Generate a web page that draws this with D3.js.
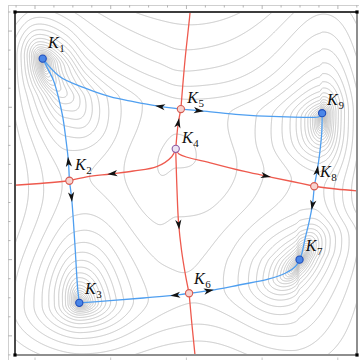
<!DOCTYPE html>
<html>
<head>
<meta charset="utf-8">
<script src="https://cdn.jsdelivr.net/npm/d3@7"></script>
<style>
  html, body { margin: 0; padding: 0; background: #fff; }
  svg { display: block; }
</style>
</head>
<body>
<svg id="chart" width="359" height="360"></svg>
<script>
// ---- critical points of the height function ----
const critNames = ["1", "2", "3", "4", "5", "6", "7", "8", "9"];
const critX = [0.81, 1.59, 1.88, 4.70, 4.85, 5.09, 8.32, 8.75, 8.98];
const critY = [8.64, 5.08, 1.52, 6.01, 7.17, 1.80, 2.78, 4.92, 7.05];
const critKind = ["min", "saddle", "min", "max", "saddle", "saddle", "min", "saddle", "min"];

// ---- descending separatrices: saddle -> minimum (blue) ----
const sepK5K1 = [[4.85, 7.17], [4.143, 7.26], [3.459, 7.385], [2.778, 7.53], [1.997, 7.80], [1.316, 8.11], [0.81, 8.64]];
const sepK5K9 = [[4.85, 7.17], [5.38, 7.122], [6.453, 7.018], [7.719, 6.947], [8.596, 6.93], [8.889, 6.947], [8.98, 7.05]];
const sepK2K1 = [[1.59, 5.08], [1.558, 5.685], [1.491, 6.268], [1.395, 6.948], [1.266, 7.53], [1.12, 8.017], [0.927, 8.405], [0.81, 8.64]];
const sepK2K3 = [[1.59, 5.08], [1.658, 4.548], [1.754, 3.187], [1.833, 1.924], [1.88, 1.52]];
const sepK6K3 = [[5.09, 1.80], [4.825, 1.758], [3.752, 1.662], [2.778, 1.583], [1.88, 1.52]];
const sepK6K7 = [[5.09, 1.80], [5.673, 1.875], [6.55, 2.041], [7.427, 2.216], [7.915, 2.391], [8.208, 2.586], [8.32, 2.78]];
const sepK8K9 = [[8.75, 4.92], [8.839, 5.394], [8.909, 5.88], [8.968, 6.463], [8.98, 7.05]];
const sepK8K7 = [[8.75, 4.92], [8.693, 4.353], [8.596, 3.869], [8.48, 3.382], [8.383, 2.945], [8.32, 2.78]];

// ---- ascending separatrices: maximum / boundary -> saddle (red) ----
const sepK4K5 = [[4.70, 6.01], [4.766, 6.706], [4.85, 7.17]];
const sepK5Top = [[4.85, 7.17], [4.971, 8.6], [5.117, 9.97], [5.12, 10.05]];
const sepK4K2 = [[4.70, 6.01], [4.582, 5.781], [4.143, 5.49], [3.459, 5.364], [2.778, 5.277], [2.096, 5.19], [1.59, 5.08]];
const sepK2Left = [[1.59, 5.08], [0.731, 5.0], [0.088, 4.956], [-0.05, 4.95]];
const sepK4K8 = [[4.70, 6.01], [4.795, 5.86], [5.769, 5.589], [6.746, 5.344], [7.427, 5.198], [8.1, 5.058], [8.75, 4.92]];
const sepK8Right = [[8.75, 4.92], [9.386, 4.84], [10.05, 4.78]];
const sepK4K6 = [[4.70, 6.01], [4.708, 5.685], [4.737, 4.81], [4.781, 3.878], [4.868, 3.061], [4.985, 2.332], [5.09, 1.80]];
const sepK6Bottom = [[5.09, 1.80], [5.175, 0.875], [5.263, 0], [5.266, -0.05]];

// ---- flow lines leaving the minima towards the frame (not drawn) ----
const extBelowK3 = [[1.95, -0.6], [1.93, 0.0]];
const extAboveK1 = [[0.72, 10.0], [0.70, 10.6]];
const extBelowK6 = [[5.28, -0.6]];
const extAboveK5 = [[5.13, 10.6]];
const extBelowK7 = [[8.12, -0.6], [8.15, 0.0]];
const extAboveK9 = [[9.0, 10.0], [9.0, 10.6]];
const extLeftK3 = [[-0.6, 1.40], [-0.2, 1.42]];
const extRightK7 = [[10.0, 3.3], [10.6, 3.45]];
const extLeftK2 = [[-0.6, 4.93]];
const extRightK8 = [[10.6, 4.75]];
const extLeftK1 = [[-0.6, 8.75], [0.0, 8.72]];
const extRightK9 = [[10.0, 7.1], [10.6, 7.12]];
// grid lines close to K1, opened up so the cell corner stays well shaped
const colNearK1 = [[1.266, 7.53], [1.02, 7.95], [0.865, 8.32]];
const rowNearK1 = [[1.5, 8.38], [2.1, 7.82]];

// curvature weights at the nine critical points: [column u][row v]
const weightAcross = [[1.4, 1.0, 2.4], [1.0, 1.5, 1.8], [1.0, 1.0, 2.6]];
const weightAlong = [[0.7, 1.0, 0.5], [0.8, 0.73, 0.8], [1.0, 0.65, 0.37]];
// rise towards each side of the frame, at the three grid lines meeting it
const liftTop = [2.5, 8.4, 3.0];
const liftBottom = [1.4, 1.64, 1.4];
const liftLeft = [1.0, 1.6, 1.0];
const liftRight = [1.2, 1.7, 1.2];
const contourStep = 0.35;
const contourStart = -6.95;
const contourEnd = 2.6;

// ---------------------------------------------------------------
const svg = d3.select("#chart");
const xScale = d3.scaleLinear().domain([0, 10]).range([15, 357]);
const yScale = d3.scaleLinear().domain([0, 10]).range([355, 12]);

// monotone cubic (Fritsch–Carlson) interpolation, linear outside the knots
function pchip(xs, ys) {
  const n = xs.length, h = [], d = [], m = new Array(n);
  for (let i = 0; i < n - 1; i++) { h[i] = xs[i + 1] - xs[i]; d[i] = (ys[i + 1] - ys[i]) / h[i]; }
  m[0] = d[0]; m[n - 1] = d[n - 2];
  for (let i = 1; i < n - 1; i++) {
    if (d[i - 1] * d[i] <= 0) m[i] = 0;
    else {
      const w1 = 2 * h[i] + h[i - 1], w2 = h[i] + 2 * h[i - 1];
      m[i] = (w1 + w2) / (w1 / d[i - 1] + w2 / d[i]);
    }
  }
  return function (x) {
    if (x <= xs[0]) return ys[0] + m[0] * (x - xs[0]);
    if (x >= xs[n - 1]) return ys[n - 1] + m[n - 1] * (x - xs[n - 1]);
    let lo = 0, hi = n - 1;
    while (hi - lo > 1) { const mid = (lo + hi) >> 1; if (xs[mid] <= x) lo = mid; else hi = mid; }
    const t = (x - xs[lo]) / h[lo], t2 = t * t, t3 = t2 * t;
    return (2 * t3 - 3 * t2 + 1) * ys[lo] + (t3 - 2 * t2 + t) * h[lo] * m[lo]
         + (-2 * t3 + 3 * t2) * ys[lo + 1] + (t3 - t2) * h[lo] * m[lo + 1];
  };
}
const rev = a => a.slice().reverse();
const K1pt = [critX[0], critY[0]];

// columns of the cell grid (x as a function of y)
const colLine0 = [...extBelowK3, ...rev(sepK2K3), ...sepK2K1.slice(1, 4), ...colNearK1, K1pt, ...extAboveK1];
const colLine1 = [...extBelowK6, ...rev(sepK6Bottom).slice(1), ...rev(sepK4K6).slice(1), ...sepK4K5.slice(1), ...sepK5Top.slice(1, 3), ...extAboveK5];
const colLine2 = [...extBelowK7, ...rev(sepK8K7), ...sepK8K9.slice(1), ...extAboveK9];
// rows of the cell grid (y as a function of x)
const rowLine0 = [...extLeftK3, ...rev(sepK6K3), ...sepK6K7.slice(1), ...extRightK7];
const rowLine1 = [...extLeftK2, ...rev(sepK2Left).slice(1), ...rev(sepK4K2).slice(1, 5), sepK4K2[0], ...sepK4K8.slice(2), ...sepK8Right.slice(1, 3), ...extRightK8];
const rowLine2 = [...extLeftK1, K1pt, ...rowNearK1, ...rev(sepK5K1).slice(3), ...sepK5K9.slice(1), ...extRightK9];

const colFn = [colLine0, colLine1, colLine2].map(l => pchip(l.map(p => p[1]), l.map(p => p[0])));
const rowFn = [rowLine0, rowLine1, rowLine2].map(l => pchip(l.map(p => p[0]), l.map(p => p[1])));

const ghost = 0.35;
const gridVals = [-ghost, 0, 1, 2, 2 + ghost];

// smooth hat weights (zero slope at the grid nodes)
function hats(t) {
  if (t <= 0) return [1, 0, 0];
  if (t >= 2) return [0, 0, 1];
  if (t < 1) { const s = (1 - Math.cos(Math.PI * t)) / 2; return [1 - s, s, 0]; }
  const s = (1 - Math.cos(Math.PI * (t - 1))) / 2; return [0, 1 - s, s];
}
function tableAt(tab, hu, hv) {
  let s = 0;
  for (let i = 0; i < 3; i++) { if (!hu[i]) continue; for (let j = 0; j < 3; j++) if (hv[j]) s += hu[i] * hv[j] * tab[i][j]; }
  return s;
}
const dot3 = (w, h) => w[0] * h[0] + w[1] * h[1] + w[2] * h[2];
const S = t => { const s = Math.sin(Math.PI * t / 2); return s * s; };

// sample the height function on a pixel grid
const gx0 = 13, gy0 = 10, nx = 347, ny = 348;
const uArr = new Float64Array(nx * ny), vArr = new Float64Array(nx * ny);
for (let j = 0; j < ny; j++) {
  const y = yScale.invert(gy0 + j);
  const fu = pchip([0, colFn[0](y), colFn[1](y), colFn[2](y), 10], gridVals);
  for (let i = 0; i < nx; i++) uArr[j * nx + i] = fu(xScale.invert(gx0 + i));
}
for (let i = 0; i < nx; i++) {
  const x = xScale.invert(gx0 + i);
  const fv = pchip([0, rowFn[0](x), rowFn[1](x), rowFn[2](x), 10], gridVals);
  for (let j = 0; j < ny; j++) vArr[j * nx + i] = fv(yScale.invert(gy0 + j));
}
const values = new Float64Array(nx * ny);
for (let k = 0; k < nx * ny; k++) {
  const u = uArr[k], v = vArr[k];
  const hu = hats(u), hv = hats(v);
  const tl = Math.max(0, -u / ghost), tr = Math.max(0, (u - 2) / ghost);
  const tb = Math.max(0, -v / ghost), tt = Math.max(0, (v - 2) / ghost);
  const lift = dot3(liftTop, hu) * tt * tt + dot3(liftBottom, hu) * tb * tb
             + dot3(liftLeft, hv) * tl * tl + dot3(liftRight, hv) * tr * tr;
  values[k] = Math.log(tableAt(weightAcross, hu, hv) * S(u) + tableAt(weightAlong, hu, hv) * S(v) + lift + 5e-4);
}

const levels = d3.range(contourStart, contourEnd, contourStep);
const contours = d3.contours().size([nx, ny]).thresholds(levels)(values);

// ---- outer ruler frame ----
const ruler = svg.append("g").attr("stroke", "#cfcfcf").attr("stroke-width", 1).attr("fill", "none");
ruler.append("line").attr("x1", 8).attr("y1", 5.5).attr("x2", 359).attr("y2", 5.5);
ruler.append("line").attr("x1", 8.5).attr("y1", 5).attr("x2", 8.5).attr("y2", 360);
d3.range(-1, 18).forEach(k => {
  const x = 35 + 18.93 * k;
  ruler.append("line").attr("x1", x).attr("y1", 5).attr("x2", x).attr("y2", k % 4 === 0 ? 9 : 7.5).attr("stroke", "#b5b5b5");
});
d3.range(0, 19).forEach(k => {
  const y = 12 + 19.05 * k;
  ruler.append("line").attr("x1", 8).attr("y1", y).attr("x2", k % 4 === 1 ? 12 : 10.5).attr("y2", y).attr("stroke", "#b5b5b5");
});
d3.range(0, 5).forEach(k => {
  const x = 35 + 75.7 * k;
  ruler.append("line").attr("x1", x).attr("y1", 357.5).attr("x2", x).attr("y2", 360).attr("stroke", "#c8c8c8");
});

// ---- contour lines ----
svg.append("clipPath").attr("id", "plotClip").append("rect")
  .attr("x", 15).attr("y", 12).attr("width", 342).attr("height", 343);
const gridPath = d3.geoPath(d3.geoTransform({
  point: function (x, y) { this.stream.point(gx0 + x, gy0 + y); }
}));
svg.append("g").attr("clip-path", "url(#plotClip)")
  .selectAll("path").data(contours).join("path")
  .attr("d", gridPath)
  .attr("fill", "none")
  .attr("stroke", "#bdbdbd")
  .attr("stroke-width", 0.85);

// ---- separatrices with arrowheads ----
const line = d3.line().x(d => xScale(d[0])).y(d => yScale(d[1])).curve(d3.curveCatmullRom.alpha(0.5));
const redColor = "#ee5a4e", blueColor = "#4f9ff0";
const flowLines = [
  { pts: sepK5Top, color: redColor, arrow: null },
  { pts: sepK2Left, color: redColor, arrow: null },
  { pts: sepK8Right, color: redColor, arrow: null },
  { pts: sepK6Bottom, color: redColor, arrow: null },
  { pts: sepK4K5, color: redColor, arrow: 31 },
  { pts: sepK4K2, color: redColor, arrow: 77 },
  { pts: sepK4K8, color: redColor, arrow: 101 },
  { pts: sepK4K6, color: redColor, arrow: 81 },
  { pts: sepK5K1, color: blueColor, arrow: 26 },
  { pts: sepK5K9, color: blueColor, arrow: 23 },
  { pts: sepK2K1, color: blueColor, arrow: 24 },
  { pts: sepK2K3, color: blueColor, arrow: 21.5 },
  { pts: sepK6K3, color: blueColor, arrow: 19 },
  { pts: sepK6K7, color: blueColor, arrow: 25 },
  { pts: sepK8K9, color: blueColor, arrow: 21 },
  { pts: sepK8K7, color: blueColor, arrow: 24 }
];
const flowG = svg.append("g").attr("clip-path", "url(#plotClip)");
const arrowG = svg.append("g");
flowLines.forEach(fl => {
  const p = flowG.append("path").attr("d", line(fl.pts)).attr("fill", "none")
    .attr("stroke", fl.color).attr("stroke-width", 1.3);
  if (fl.arrow != null) {
    const node = p.node();
    const tip = node.getPointAtLength(fl.arrow);
    const back = node.getPointAtLength(fl.arrow - 2);
    const ang = Math.atan2(tip.y - back.y, tip.x - back.x) * 180 / Math.PI;
    arrowG.append("path").attr("d", "M0,0L-10,-3.1L-7.4,0L-10,3.1Z")
      .attr("fill", "#111").attr("transform", `translate(${tip.x},${tip.y}) rotate(${ang})`);
  }
});

// ---- frame ----
const frame = svg.append("g").attr("stroke-width", 2).attr("fill", "none");
frame.append("line").attr("x1", 15).attr("y1", 12).attr("x2", 357).attr("y2", 12).attr("stroke", "#3c3c3c");
frame.append("line").attr("x1", 15).attr("y1", 12).attr("x2", 15).attr("y2", 355).attr("stroke", "#4a4a4a");
frame.append("line").attr("x1", 15).attr("y1", 355).attr("x2", 357).attr("y2", 355).attr("stroke", "#8e8e8e");
frame.append("line").attr("x1", 357).attr("y1", 12).attr("x2", 357).attr("y2", 355).attr("stroke", "#8e8e8e");
[[15, 12], [357, 12], [15, 355], [357, 355]].forEach(c => {
  svg.append("rect").attr("x", c[0] - 1.6).attr("y", c[1] - 1.6).attr("width", 3.2).attr("height", 3.2).attr("fill", "#000");
});

// ---- critical point markers and labels ----
const markerStyle = {
  min: { fill: "#4a86e8", stroke: "#1f4dbb" },
  saddle: { fill: "#f8d3cf", stroke: "#d65a50" },
  max: { fill: "#ece4f4", stroke: "#8c5aa3" }
};
const labelDX = [5.3, 5.7, 5.7, 6.3, 6.3, 5.0, 6.3, 5.7, 5.0];
const labelDY = [-10.2, -10.7, -8.7, -6.0, -6.0, -9.3, -8.7, -9.3, -8.3];
const marks = svg.append("g");
critNames.forEach((name, i) => {
  const cx = xScale(critX[i]), cy = yScale(critY[i]);
  const st = markerStyle[critKind[i]];
  marks.append("circle").attr("cx", cx).attr("cy", cy).attr("r", 3.6)
    .attr("fill", st.fill).attr("stroke", st.stroke).attr("stroke-width", 1.1);
  const t = marks.append("text")
    .attr("x", cx + labelDX[i]).attr("y", cy + labelDY[i])
    .attr("font-family", "'Liberation Serif', 'Times New Roman', serif")
    .attr("font-size", 16).attr("fill", "#111");
  t.append("tspan").attr("font-style", "italic").text("K");
  t.append("tspan").attr("font-size", 11).attr("dx", 0.6).attr("dy", 4).text(name);
});
</script>
</body>
</html>
